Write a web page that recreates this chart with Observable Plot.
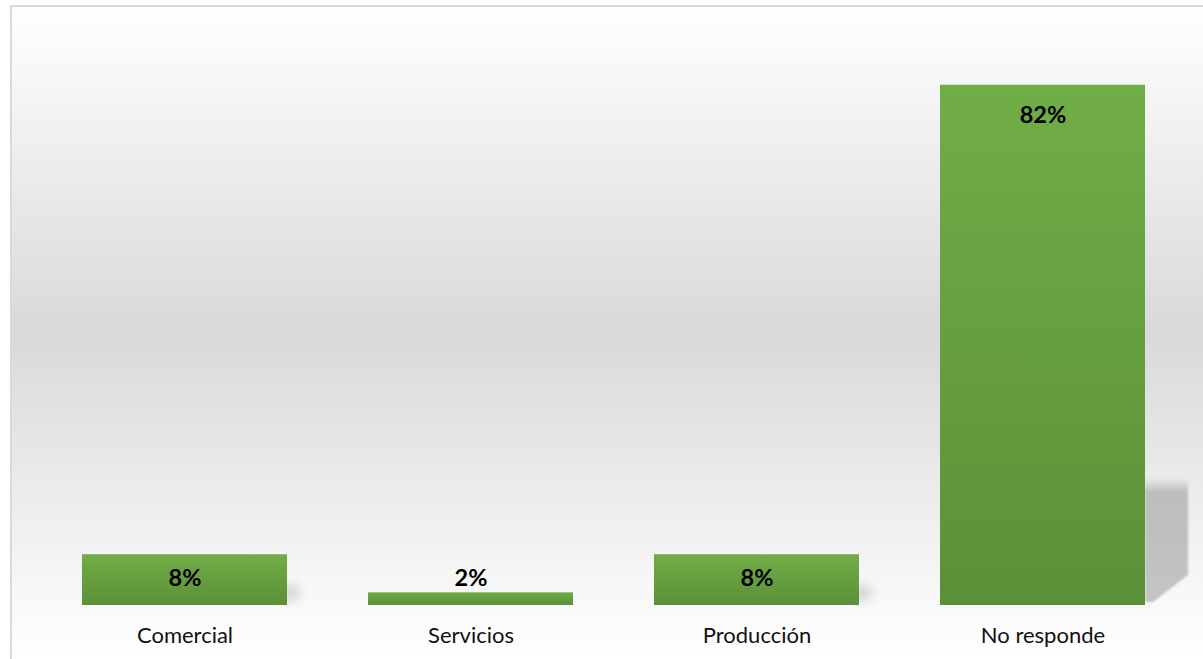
<!DOCTYPE html>
<html><head><meta charset="utf-8">
<script src="https://cdn.jsdelivr.net/npm/d3@7"></script>
<script src="https://cdn.jsdelivr.net/npm/@observablehq/plot@0.6"></script>
<style>
html,body{margin:0;padding:0;background:#fff;overflow:hidden}
#wrap{position:relative;width:1203px;height:659px;overflow:hidden}
#box{position:absolute;left:10px;top:5px;width:1220px;height:700px;border:2px solid #d9d9d9;box-sizing:border-box;
 background:linear-gradient(to bottom,#ffffff 0px,#d9d9d9 325px,#ffffff 650px,#ffffff 700px)}
#chart{position:absolute;left:0;top:0}
</style></head><body>
<div id="wrap"><div id="box"></div><div id="chart"></div></div>
<script>
const categories = ["Comercial", "Servicios", "Producción", "No responde"];
const values = [8, 2, 8, 82];
const valueLabels = ["8%", "2%", "8%", "82%"];

const data = categories.map((c, i) => ({category: c, value: values[i], label: valueLabels[i]}));

const plot = Plot.plot({
  width: 1203,
  height: 659,
  marginLeft: 40,
  marginRight: 17,
  marginTop: 34,
  marginBottom: 54,
  style: {background: "transparent", fontFamily: "Lato, 'Open Sans', sans-serif", color: "#111"},
  x: {domain: categories, paddingInner: 0.284, paddingOuter: 0.142, label: null},
  y: {domain: [0, 90], axis: null},
  marks: [
    Plot.barY(data, {x: "category", y: "value", fill: "url(#barGrad)"}),
    Plot.axisX({tickSize: 0, tickPadding: 22, fontSize: 22, label: null}),
    Plot.text(data.filter(d => d.value >= 50), {x: "category", y: "value", text: "label", dy: 30, fontSize: 23.5, fontWeight: "bold", fill: "#000"}),
    Plot.text(data.filter(d => d.value >= 5 && d.value < 50), {x: "category", y: "value", text: "label", dy: 24, fontSize: 23.5, fontWeight: "bold", fill: "#000"}),
    Plot.text(data.filter(d => d.value < 5), {x: "category", y: "value", text: "label", dy: -14, fontSize: 23.5, fontWeight: "bold", fill: "#000"})
  ]
});

const svg = d3.select(plot);
const defs = svg.insert("defs", ":first-child");
const g = defs.append("linearGradient").attr("id", "barGrad").attr("x1", 0).attr("y1", 0).attr("x2", 0).attr("y2", 1);
g.append("stop").attr("offset", "0%").attr("stop-color", "#71ad47");
g.append("stop").attr("offset", "100%").attr("stop-color", "#5b9038");
const sg = defs.append("linearGradient").attr("id", "shadowGrad").attr("x1", 0).attr("y1", 0).attr("x2", 0).attr("y2", 1);
sg.append("stop").attr("offset", "0%").attr("stop-color", "#bdbdbd").attr("stop-opacity", 0);
sg.append("stop").attr("offset", "12%").attr("stop-color", "#bdbdbd").attr("stop-opacity", 1);
sg.append("stop").attr("offset", "100%").attr("stop-color", "#c4c4c4").attr("stop-opacity", 1);
defs.append("filter").attr("id", "soft").attr("x", "-50%").attr("y", "-50%").attr("width", "200%").attr("height", "200%")
  .append("feGaussianBlur").attr("stdDeviation", 1.2);
defs.append("filter").attr("id", "blurS").attr("x", "-50%").attr("y", "-50%").attr("width", "200%").attr("height", "200%")
  .append("feGaussianBlur").attr("stdDeviation", 5);

// decorative shadows drawn with the plot's own scales
const xs = plot.scale("x"), ys = plot.scale("y");
const bw = xs.bandwidth;
const shadowLayer = svg.insert("g", "g[aria-label='bar']");
data.forEach(d => {
  const x2 = xs.apply(d.category) + bw;
  const y0 = ys.apply(0), yt = ys.apply(d.value);
  const h = y0 - yt;
  if (h > 125) {
    const top = y0 - 127, w = 43;
    shadowLayer.append("path")
      .attr("d", `M${x2},${top} L${x2 + w},${top} L${x2 + w},${y0 - 30} L${x2 + 8},${y0 - 3} L${x2},${y0 - 3} Z`)
      .attr("fill", "url(#shadowGrad)").attr("filter", "url(#soft)");
  } else if (h > 20) {
    shadowLayer.append("ellipse")
      .attr("cx", x2 + 2).attr("cy", y0 - 12).attr("rx", 12).attr("ry", 9)
      .attr("fill", "#000").attr("opacity", 0.12).attr("filter", "url(#blurS)");
  }
});

document.getElementById("chart").appendChild(plot);
</script>
</body></html>
